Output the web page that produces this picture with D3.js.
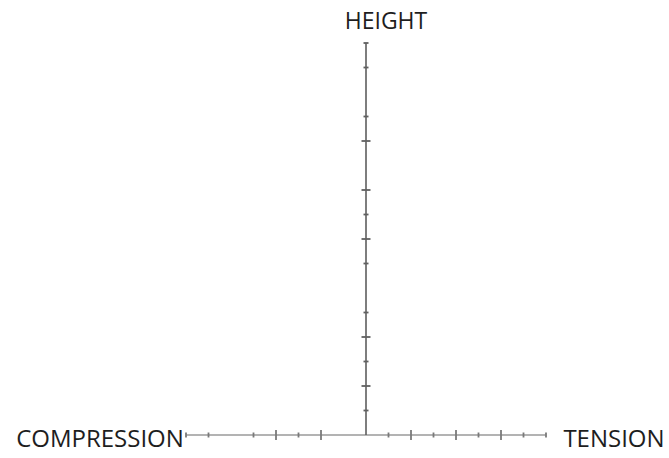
<!DOCTYPE html>
<html>
<head>
<meta charset="utf-8">
<script src="https://cdn.jsdelivr.net/npm/d3@7"></script>
<style>
html,body{margin:0;padding:0;background:#fff;}
svg text{font-family:"Open Sans","Noto Sans",sans-serif;fill:#1e1e1e;}
</style>
</head>
<body>
<svg id="chart" width="669" height="458"></svg>
<script>
// Data
const xDomain = [-8, 8];
const yDomain = [0, 16];
const xMajorTicks = [-4, -2, 2, 4, 6];
const xMinorTicks = [-8, -7, -5, -3, 1, 3, 5, 7, 8];
const yMajorTicks = [2, 4, 8, 10, 12];
const yMinorTicks = [1, 3, 5, 7, 9, 13, 15, 16];
const axisLabels = {x: ["COMPRESSION", "TENSION"], y: "HEIGHT"};

const svg = d3.select("#chart");
const x = d3.scaleLinear().domain(xDomain).range([186, 546]);
const y = d3.scaleLinear().domain(yDomain).range([435, 43]);

// horizontal axis
const gx = svg.append("g").attr("transform", `translate(0,${y(0)})`);
gx.append("line").attr("x1", x(xDomain[0])).attr("x2", x(xDomain[1]))
  .attr("stroke", "#9a9a9a").attr("stroke-width", 1.3);
gx.selectAll("line.maj").data(xMajorTicks).join("line")
  .attr("x1", d => x(d)).attr("x2", d => x(d)).attr("y1", -5).attr("y2", 5)
  .attr("stroke", "#7a7a7a").attr("stroke-width", 1.8);
gx.selectAll("line.min").data(xMinorTicks).join("line").attr("class","min")
  .attr("x1", d => x(d)).attr("x2", d => x(d)).attr("y1", -2.5).attr("y2", 2.5)
  .attr("stroke", "#7a7a7a").attr("stroke-width", 1.8);

// vertical axis
const gy = svg.append("g").attr("transform", `translate(${x(0)},0)`);
gy.append("line").attr("y1", y(yDomain[0])).attr("y2", y(yDomain[1]))
  .attr("stroke", "#5e5e5e").attr("stroke-width", 1.6);
gy.selectAll("line.maj").data(yMajorTicks).join("line")
  .attr("y1", d => y(d)).attr("y2", d => y(d)).attr("x1", -4.5).attr("x2", 4.5)
  .attr("stroke", "#606060").attr("stroke-width", 1.8);
gy.selectAll("line.min").data(yMinorTicks).join("line").attr("class","min")
  .attr("y1", d => y(d)).attr("y2", d => y(d)).attr("x1", -2.5).attr("x2", 2.5)
  .attr("stroke", "#606060").attr("stroke-width", 1.8);

// labels
svg.append("text").attr("x", 386).attr("y", 29).attr("text-anchor", "middle")
  .attr("font-size", 23).text(axisLabels.y);
svg.append("text").attr("x", 100).attr("y", 447).attr("text-anchor", "middle")
  .attr("font-size", 24).text(axisLabels.x[0]);
svg.append("text").attr("x", 614).attr("y", 447).attr("text-anchor", "middle")
  .attr("font-size", 24).text(axisLabels.x[1]);
</script>
</body>
</html>
